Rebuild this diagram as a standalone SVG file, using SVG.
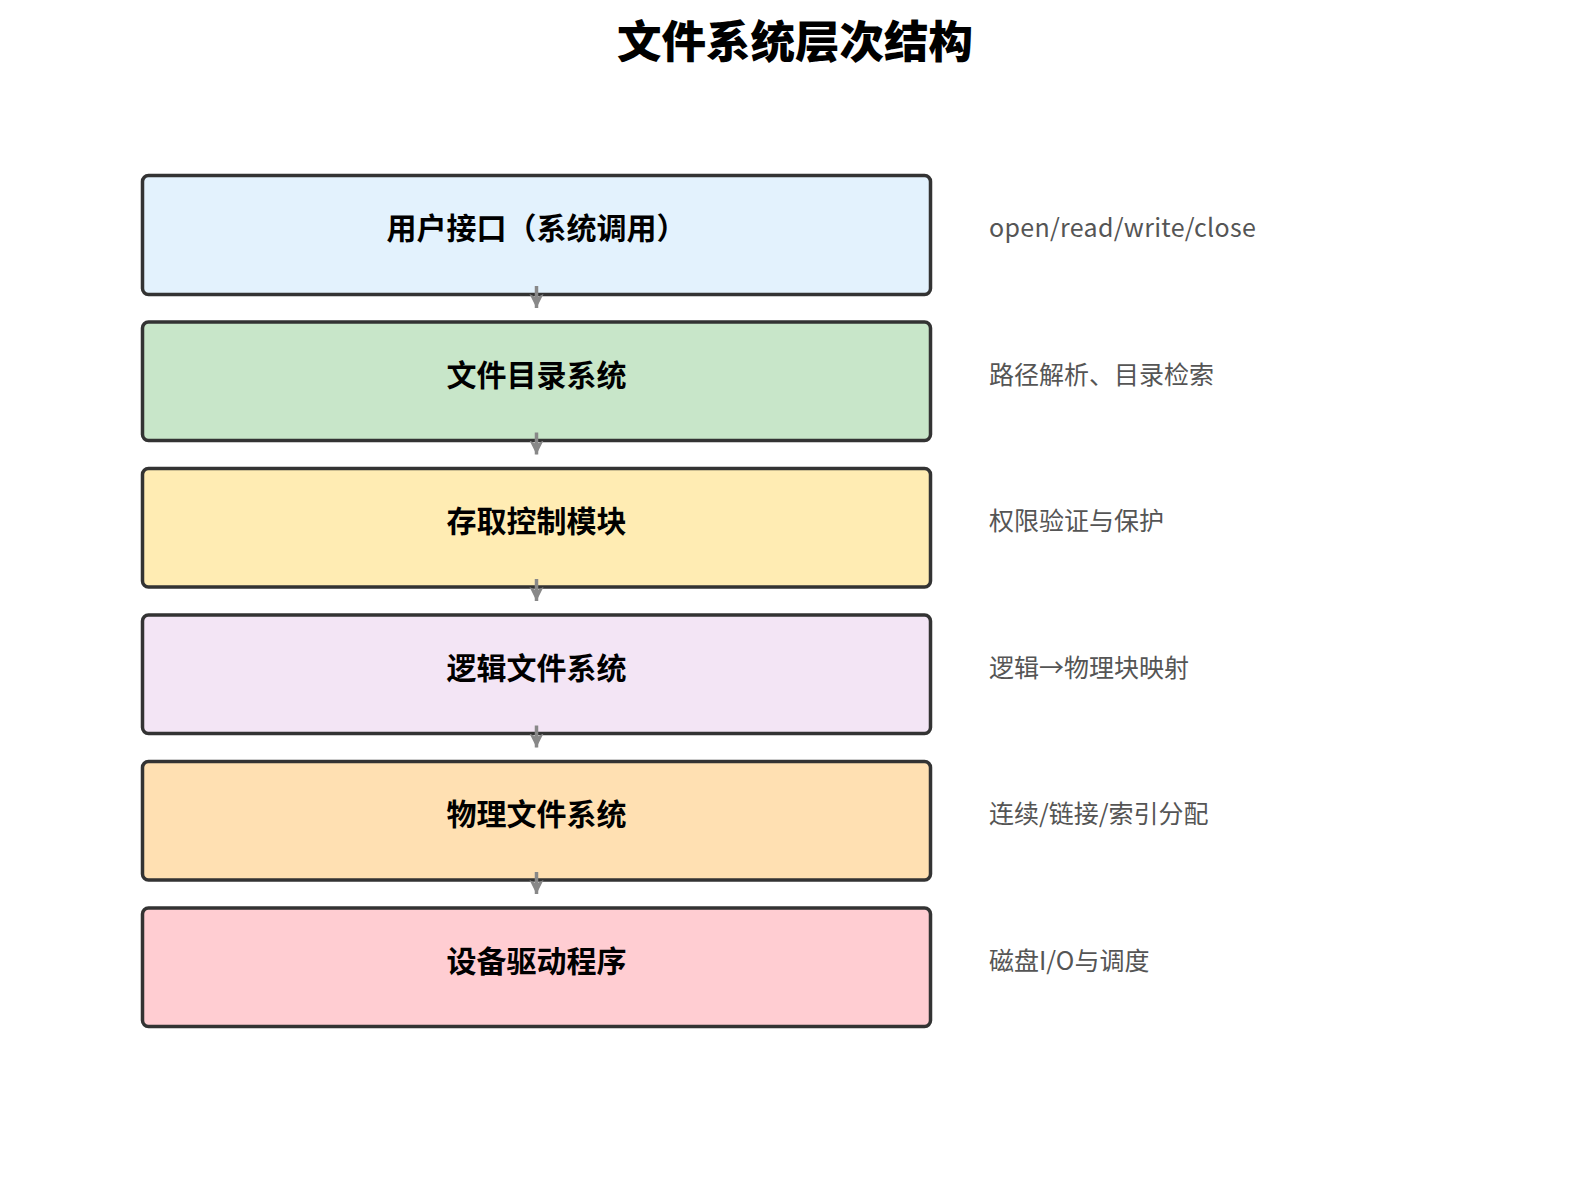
<svg xmlns="http://www.w3.org/2000/svg" width="1589" height="1194" viewBox="0 0 1589 1194">
<defs>
<style>
.box{stroke:#333;stroke-width:3.5}
.lbl{font-family:"Noto Sans CJK SC","Noto Sans",sans-serif;font-size:30px;font-weight:700;fill:#000;text-anchor:middle}
.note{font-family:"Noto Sans CJK SC","Noto Sans",sans-serif;font-size:25px;fill:#555}
.lat{letter-spacing:0.3px}
.title{font-family:"Noto Sans CJK SC","Noto Sans",sans-serif;font-size:44.5px;font-weight:900;fill:#000;text-anchor:middle}
.arr{stroke:#888;stroke-width:3.5;fill:none}
</style>
<marker id="ah" markerUnits="userSpaceOnUse" markerWidth="16" markerHeight="16" refX="14" refY="7.5" orient="auto">
<path d="M0,0.5 L14,7.5 L0,14.5 L3.5,7.5 z" fill="#888"/>
</marker>
</defs>
<rect width="1589" height="1194" fill="#fff"/>
<text class="title" x="795" y="58">文件系统层次结构</text>
<g id="n1"><rect class="box" x="142.5" y="175.5" width="788" height="119" rx="6" fill="#E3F2FD"/><text class="lbl" x="536.5" y="239">用户接口（系统调用）</text><text class="note lat" x="989" y="237">open/read/write/close</text></g>
<g id="n2"><rect class="box" x="142.5" y="322" width="788" height="118.5" rx="6" fill="#C8E6C9"/><text class="lbl" x="536.5" y="385.5">文件目录系统</text><text class="note" x="989" y="383.5">路径解析、目录检索</text></g>
<g id="n3"><rect class="box" x="142.5" y="468.5" width="788" height="118.5" rx="6" fill="#FFECB3"/><text class="lbl" x="536.5" y="532">存取控制模块</text><text class="note" x="989" y="530">权限验证与保护</text></g>
<g id="n4"><rect class="box" x="142.5" y="615" width="788" height="118.5" rx="6" fill="#F3E5F5"/><text class="lbl" x="536.5" y="678.5">逻辑文件系统</text><text class="note" x="989" y="676.5">逻辑→物理块映射</text></g>
<g id="n5"><rect class="box" x="142.5" y="761.5" width="788" height="118.5" rx="6" fill="#FFE0B2"/><text class="lbl" x="536.5" y="825">物理文件系统</text><text class="note" x="989" y="823">连续/链接/索引分配</text></g>
<g id="n6"><rect class="box" x="142.5" y="908" width="788" height="118.5" rx="6" fill="#FFCDD2"/><text class="lbl" x="536.5" y="971.5">设备驱动程序</text><text class="note" x="989" y="969.5">磁盘I/O与调度</text></g>
<g id="connectors">
<line class="arr" x1="536.5" y1="286" x2="536.5" y2="308" marker-end="url(#ah)"/>
<line class="arr" x1="536.5" y1="432.5" x2="536.5" y2="454.5" marker-end="url(#ah)"/>
<line class="arr" x1="536.5" y1="579" x2="536.5" y2="601" marker-end="url(#ah)"/>
<line class="arr" x1="536.5" y1="725.5" x2="536.5" y2="747.5" marker-end="url(#ah)"/>
<line class="arr" x1="536.5" y1="872" x2="536.5" y2="894" marker-end="url(#ah)"/>
</g>
</svg>
